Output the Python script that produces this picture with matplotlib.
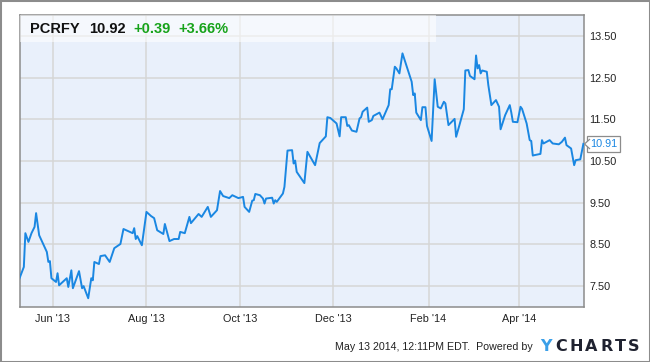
import numpy as np
import matplotlib
matplotlib.use("Agg")
import matplotlib.pyplot as plt
import matplotlib.dates as mdates
from matplotlib.patches import Rectangle, Polygon

plt.rcParams['font.family'] = ['Liberation Sans', 'DejaVu Sans']

dates = [
    '2013-05-10', '2013-05-13', '2013-05-14', '2013-05-16', '2013-05-18', '2013-05-20',
    '2013-05-21', '2013-05-23', '2013-05-28', '2013-05-29', '2013-05-30', '2013-05-31',
    '2013-06-03', '2013-06-04', '2013-06-05', '2013-06-10', '2013-06-11', '2013-06-13',
    '2013-06-14', '2013-06-18', '2013-06-20', '2013-06-21', '2013-06-24', '2013-06-26',
    '2013-06-27', '2013-06-28', '2013-07-01', '2013-07-02', '2013-07-05', '2013-07-08',
    '2013-07-11', '2013-07-15', '2013-07-17', '2013-07-23', '2013-07-24', '2013-07-25',
    '2013-07-26', '2013-07-29', '2013-08-01', '2013-08-04', '2013-08-06', '2013-08-08',
    '2013-08-12', '2013-08-13', '2013-08-16', '2013-08-19', '2013-08-22', '2013-08-23',
    '2013-08-26', '2013-08-29', '2013-08-30', '2013-09-04', '2013-09-06', '2013-09-10',
    '2013-09-12', '2013-09-16', '2013-09-18', '2013-09-20', '2013-09-24', '2013-09-26',
    '2013-09-30', '2013-10-03', '2013-10-04', '2013-10-07', '2013-10-09', '2013-10-10',
    '2013-10-11', '2013-10-14', '2013-10-16', '2013-10-17', '2013-10-18', '2013-10-22',
    '2013-10-23', '2013-10-24', '2013-10-25', '2013-10-29', '2013-10-30', '2013-11-01',
    '2013-11-04', '2013-11-05', '2013-11-06', '2013-11-07', '2013-11-12', '2013-11-14',
    '2013-11-19', '2013-11-22', '2013-11-26', '2013-11-27', '2013-11-29', '2013-12-03',
    '2013-12-05', '2013-12-06', '2013-12-09', '2013-12-10', '2013-12-11', '2013-12-13',
    '2013-12-16', '2013-12-18', '2013-12-19', '2013-12-20', '2013-12-23', '2013-12-24',
    '2013-12-26', '2013-12-27', '2013-12-31', '2014-01-02', '2014-01-06', '2014-01-07',
    '2014-01-08', '2014-01-10', '2014-01-11', '2014-01-13', '2014-01-15', '2014-01-21',
    '2014-01-22', '2014-01-23', '2014-01-24', '2014-01-27', '2014-01-28', '2014-01-30',
    '2014-01-31', '2014-02-03', '2014-02-05', '2014-02-07', '2014-02-09', '2014-02-11',
    '2014-02-12', '2014-02-14', '2014-02-18', '2014-02-19', '2014-02-21', '2014-02-24',
    '2014-02-25', '2014-02-27', '2014-02-28', '2014-03-03', '2014-03-04', '2014-03-05',
    '2014-03-06', '2014-03-07', '2014-03-08', '2014-03-11', '2014-03-12', '2014-03-14',
    '2014-03-17', '2014-03-19', '2014-03-20', '2014-03-23', '2014-03-26', '2014-03-27',
    '2014-03-28', '2014-03-31', '2014-04-02', '2014-04-03', '2014-04-06', '2014-04-08',
    '2014-04-09', '2014-04-10', '2014-04-11', '2014-04-15', '2014-04-16', '2014-04-17',
    '2014-04-21', '2014-04-23', '2014-04-27', '2014-04-29', '2014-05-01', '2014-05-02',
    '2014-05-05', '2014-05-07', '2014-05-08', '2014-05-11', '2014-05-13',
]
prices = [
    7.67, 7.96, 8.77, 8.56, 8.77, 8.92,
    9.25, 8.72, 8.32, 8.08, 8.10, 7.69,
    7.60, 7.81, 7.52, 7.69, 7.48, 7.88,
    7.45, 7.86, 7.45, 7.50, 7.21, 7.69,
    7.64, 8.08, 8.03, 8.22, 8.24, 8.08,
    8.41, 8.51, 8.87, 8.77, 8.89, 8.63,
    8.70, 8.48, 9.28, 9.18, 9.13, 8.84,
    8.75, 8.99, 8.58, 8.63, 8.63, 8.80,
    8.77, 9.16, 9.01, 9.23, 9.16, 9.40,
    9.16, 9.32, 9.78, 9.66, 9.61, 9.68,
    9.61, 9.64, 9.40, 9.28, 9.55, 9.56,
    9.71, 9.68, 9.60, 9.48, 9.60, 9.62,
    9.48, 9.56, 9.52, 9.72, 9.88, 10.75,
    10.76, 10.44, 10.51, 10.24, 9.97, 10.72,
    10.40, 10.93, 11.09, 11.55, 11.53, 11.40,
    11.09, 11.55, 11.55, 11.34, 11.36, 11.23,
    11.20, 11.52, 11.55, 11.68, 11.78, 11.44,
    11.48, 11.58, 11.66, 11.50, 11.84, 12.22,
    12.22, 12.76, 12.72, 12.60, 13.08, 12.40,
    12.08, 12.12, 11.66, 11.48, 11.79, 11.79,
    11.34, 10.98, 12.46, 11.80, 11.76, 11.92,
    11.88, 11.36, 11.51, 11.08, 11.34, 11.74,
    12.67, 12.68, 12.54, 12.46, 13.03, 12.72,
    12.80, 12.60, 12.67, 12.64, 12.32, 11.84,
    11.96, 11.80, 11.26, 11.60, 11.84, 11.66,
    11.44, 11.43, 11.80, 11.75, 11.40, 11.00,
    10.98, 10.63, 10.64, 10.67, 11.00, 10.92,
    11.00, 10.92, 10.90, 10.96, 11.06, 10.88,
    10.80, 10.40, 10.52, 10.54, 10.91,
]
ytick_vals = [7.5, 8.5, 9.5, 10.5, 11.5, 12.5, 13.5]
xtick_dates = ['2013-06-01', '2013-08-01', '2013-10-01', '2013-12-01', '2014-02-01', '2014-04-01']

ticker = 'PCRFY'
last_price = '10.92'
change = '+0.39'
change_pct = '+3.66%'
flag_value = '10.91'
footer = 'May 13 2014, 12:11PM EDT.  Powered by'

W, H = 650, 362
line_color = '#1a87e2'
grid_color = '#d6d6d6'
edge_color = '#8c8c8c'


def px(x, y):
    return x / W, 1 - y / H


fig = plt.figure(figsize=(W / 100, H / 100), dpi=100)
ax = fig.add_axes([20 / W, 1 - 307 / H, (584 - 20) / W, (307 - 15) / H])
ax.set_facecolor('#e9f0fb')

ax.plot(np.array(dates, dtype='datetime64[D]'), prices, color=line_color, lw=1.4, zorder=3)

ax.set_xlim(np.datetime64('2013-05-10T12:00'), np.datetime64('2014-05-13T10:00'))
ax.set_ylim(7.0, 14.0)
ax.set_xticks(np.array(xtick_dates, dtype='datetime64[D]'))
ax.xaxis.set_major_formatter(mdates.DateFormatter("%b '%y"))
ax.set_yticks(ytick_vals)
ax.set_yticklabels(['%.2f' % v for v in ytick_vals])
ax.yaxis.tick_right()
ax.tick_params(axis='both', length=0, labelsize=7.8, colors='#222222')
ax.tick_params(axis='y', pad=4)
ax.tick_params(axis='x', pad=5)
ax.grid(True, color=grid_color, lw=1.1)
ax.set_axisbelow(True)
for s in ax.spines.values():
    s.set_color(edge_color)
    s.set_linewidth(1.1)

# header overlay
x0, y0 = px(20, 42)
fig.add_artist(Rectangle((x0, y0), (436 - 20) / W, 27 / H, transform=fig.transFigure,
                         fc='white', ec='none', alpha=0.55, zorder=2))
fig.text(*px(30, 29), ticker, fontsize=10.5, fontweight='bold', va='center', color='#111111')
fig.text(*px(89, 29), last_price, fontsize=10.5, fontweight='bold', va='center', color='#111111')
fig.text(*px(133, 29), change, fontsize=10.5, fontweight='bold', va='center', color='#17a31a')
fig.text(*px(178, 29), change_pct, fontsize=10.5, fontweight='bold', va='center', color='#17a31a')

# last price flag
fig.text(*px(590, 144), flag_value, fontsize=7.8, va='center', ha='left', color=line_color,
         bbox=dict(boxstyle='square,pad=0.25', fc='white', ec=edge_color, lw=0.9))
tri = [px(590, 139), px(584.5, 144), px(590, 149)]
fig.add_artist(Polygon(tri, closed=False, transform=fig.transFigure, fc='white',
                       ec=edge_color, lw=0.9, zorder=5))

# footer
fig.text(*px(533, 347), footer, fontsize=7.7, va='center', ha='right', color='#222222')
logo_x = [546, 560.7, 576.7, 591.2, 606.7, 620, 633.5]
for ch, lx in zip('YCHARTS', logo_x):
    fig.text(*px(lx, 346.5), ch, fontsize=11.5, fontweight='bold', va='center', ha='center',
             family='DejaVu Sans', color='#3a9fe8' if ch == 'Y' else '#1f2230')

# outer frame
fig.add_artist(Rectangle((0, 0), 1, 1, transform=fig.transFigure, fill=False,
                         ec=edge_color, lw=2.2, zorder=10))

fig.savefig('out.png', dpi=100)
